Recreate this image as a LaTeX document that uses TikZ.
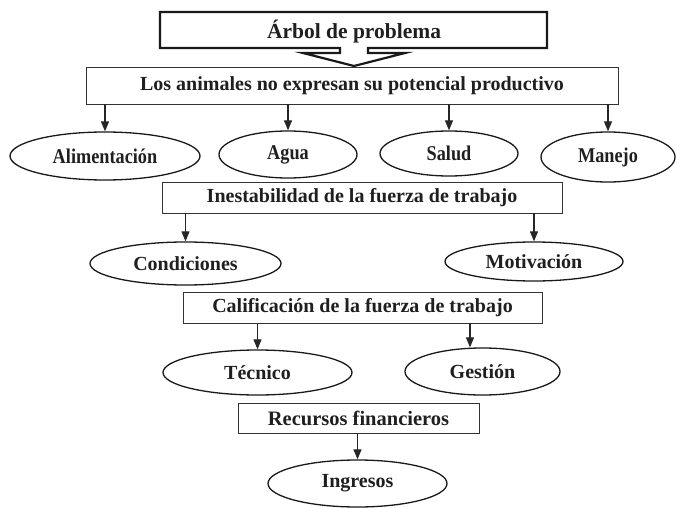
\documentclass[tikz,border=0pt]{standalone}
\usepackage{graphicx}
\usepackage{fontspec}
\setmainfont{Liberation Serif}
\usetikzlibrary{shapes.geometric,arrows.meta}
\newcommand\rowonetext[1]{\scalebox{0.87}[1]{#1}}
\begin{document}
\begin{tikzpicture}[x=1pt,y=-1pt,
  txt/.style={font=\fontsize{20}{23}\selectfont\bfseries, text=black!88},
  box/.style={txt, draw=black!80, line width=0.9pt, rectangle, inner sep=0pt},
  oval/.style={txt, draw=black!90, line width=1.3pt, ellipse, inner sep=0pt},
  ovalone/.style={oval, font=\fontsize{21}{24}\selectfont\bfseries},
  arr/.style={draw=black!85, line width=1.1pt, -{Triangle[length=10pt,width=8pt]}}]
\useasboundingbox (0,0) rectangle (677,508);
% title block arrow
\draw[line width=2.2pt, line join=miter, draw=black!90] (160,12) -- (547,12) -- (547,48) -- (368,48) -- (368,53) -- (405,53) -- (354,66) -- (303,53) -- (340,53) -- (340,48) -- (160,48) -- cycle;
\node[txt, font=\fontsize{21.5}{24}\selectfont\bfseries] (title) at (354,32) {Árbol de problema};
% boxes
\node[box, minimum width=532pt, minimum height=37pt] (main) at (352,85.5) {Los animales no expresan su potencial productivo};
\node[box, minimum width=400pt, minimum height=31pt] (inest) at (362,197.5) {Inestabilidad de la fuerza de trabajo};
\node[box, minimum width=359pt, minimum height=31pt] (calif) at (362.5,307.5) {Calificación de la fuerza de trabajo};
\node[box, font=\fontsize{20.5}{23}\selectfont\bfseries, minimum width=241pt, minimum height=30pt] (recur) at (358.5,418) {Recursos financieros};
% ellipses
\node[ovalone, minimum width=190pt, minimum height=48pt] (alim) at (105,156) {\rowonetext{Alimentación}};
\node[ovalone, minimum width=138pt, minimum height=47pt] (agua) at (288,154.5) {\rowonetext{Agua}};
\node[ovalone, minimum width=138pt, minimum height=45pt] (salud) at (449,153.5) {\rowonetext{Salud}};
\node[ovalone, minimum width=134pt, minimum height=50pt] (manejo) at (608,157) {\rowonetext{Manejo}};
\node[oval, minimum width=191pt, minimum height=43pt] (cond) at (185.5,263.5) {Condiciones};
\node[oval, minimum width=178pt, minimum height=39pt] (motiv) at (534,261.5) {Motivación};
\node[oval, minimum width=189pt, minimum height=45pt] (tecn) at (257.5,372.5) {Técnico};
\node[oval, minimum width=155pt, minimum height=47pt] (gest) at (482.5,371.5) {Gestión};
\node[oval, minimum width=179pt, minimum height=47pt] (ingr) at (357.5,483.5) {Ingresos};
% connectors
\draw[arr] (main.south -| alim.north) -- (alim.north);
\draw[arr] (main.south -| agua.north) -- (agua.north);
\draw[arr] (main.south -| salud.north) -- (salud.north);
\draw[arr] (main.south -| manejo.north) -- (manejo.north);
\draw[arr] (inest.south -| cond.north) -- (cond.north);
\draw[arr] (inest.south -| motiv.north) -- (motiv.north);
\draw[arr] (calif.south -| tecn.north) -- (tecn.north);
\draw[arr] ([xshift=-12.5pt]calif.south -| gest.north) -- ([xshift=-12.5pt]gest.north);
\draw[arr] (recur.south -| ingr.north) -- (ingr.north);
\end{tikzpicture}
\end{document}
